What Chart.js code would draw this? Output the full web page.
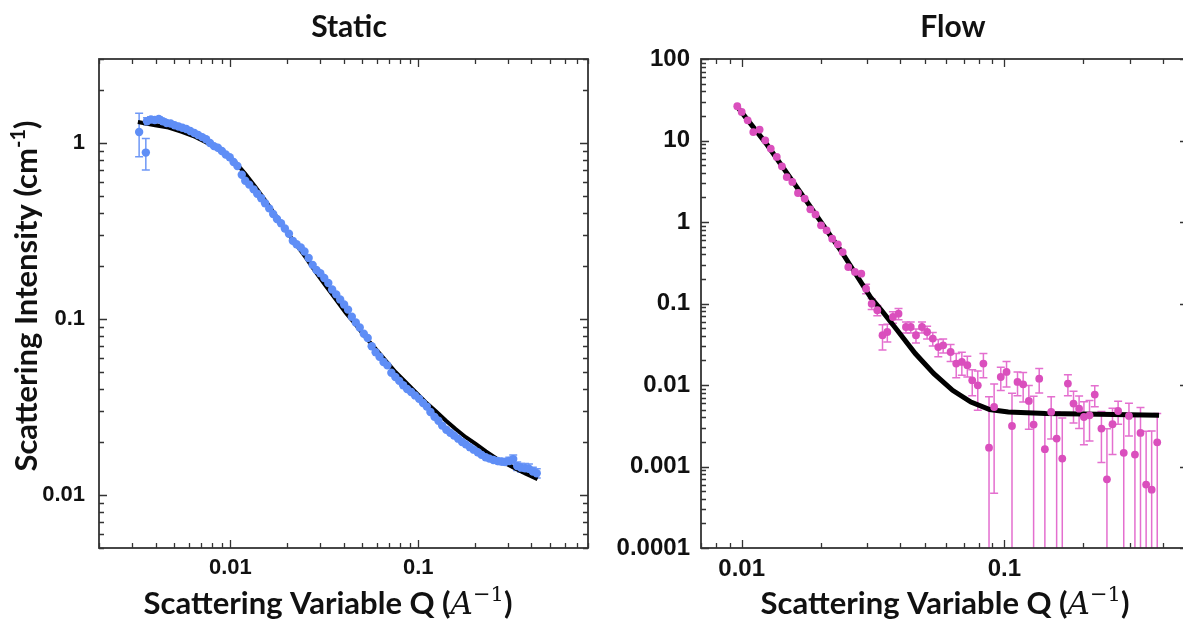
<!DOCTYPE html>
<html>
<head>
<meta charset="utf-8">
<title>Static / Flow scattering</title>
<script src="https://cdn.jsdelivr.net/npm/chart.js@4.4.1/dist/chart.umd.min.js"></script>
<style>
  html, body { margin: 0; padding: 0; background: #fff; overflow: hidden; width: 1183px; height: 619px; }
  .panel { position: absolute; top: 0; width: 600px; height: 619px; }
  #panelStatic { left: 0; }
  #panelFlow { left: 600px; }
  canvas { display: block; }
</style>
</head>
<body>
<div class="panel" id="panelStatic"><canvas id="staticChart" width="600" height="619" style="width:600px;height:619px"></canvas></div>
<div class="panel" id="panelFlow"><canvas id="flowChart" width="600" height="619" style="width:600px;height:619px"></canvas></div>
<script>
// ---- Static sample: measured intensity, uncertainty and model fit ----
const staticQ = [
  0.00327, 0.00355,
  0.00360, 0.00378, 0.00396, 0.00416, 0.00437, 0.00458, 0.00481, 0.00505, 0.00530, 0.00556,
  0.00583, 0.00612, 0.00643, 0.00674, 0.00708, 0.00743, 0.00779, 0.00818, 0.00858, 0.00901,
  0.00945, 0.00992, 0.0104, 0.0109, 0.0115, 0.0120, 0.0126, 0.0133, 0.0139, 0.0146,
  0.0153, 0.0161, 0.0169, 0.0177, 0.0186, 0.0195, 0.0205, 0.0215, 0.0225, 0.0237,
  0.0248, 0.0261, 0.0274, 0.0287, 0.0301, 0.0316, 0.0332, 0.0348, 0.0366, 0.0384,
  0.0403, 0.0423, 0.0443, 0.0465, 0.0488, 0.0513, 0.0538, 0.0565, 0.0593, 0.0622,
  0.0653, 0.0685, 0.0719, 0.0755, 0.0792, 0.0831, 0.0872, 0.0916, 0.0961, 0.101,
  0.106, 0.111, 0.116, 0.122, 0.128, 0.134, 0.141, 0.148, 0.155, 0.163,
  0.171, 0.179, 0.188, 0.197, 0.207, 0.217, 0.228, 0.239, 0.251, 0.264,
  0.277, 0.290, 0.305, 0.320, 0.336, 0.352, 0.370, 0.388, 0.407, 0.427
];
const staticI = [
  1.155, 0.882,
  1.33, 1.36, 1.35, 1.37, 1.33, 1.30, 1.29, 1.26, 1.24, 1.22,
  1.20, 1.17, 1.14, 1.11, 1.08, 1.05, 1.00, 0.96, 0.94, 0.90,
  0.86, 0.83, 0.78, 0.74, 0.66, 0.61, 0.58, 0.545, 0.515, 0.485,
  0.455, 0.425, 0.395, 0.370, 0.350, 0.327, 0.305, 0.278, 0.266, 0.255,
  0.242, 0.222, 0.203, 0.190, 0.182, 0.171, 0.160, 0.147, 0.138, 0.129,
  0.121, 0.113, 0.103, 0.0955, 0.0895, 0.0825, 0.0780, 0.0700, 0.0648, 0.0610,
  0.0570, 0.0545, 0.0495, 0.0468, 0.0445, 0.0420, 0.0400, 0.0385, 0.0368, 0.0352,
  0.0333, 0.0318, 0.0296, 0.0278, 0.0264, 0.0248, 0.0235, 0.0226, 0.0218, 0.0209,
  0.0200, 0.0194, 0.0187, 0.0181, 0.0175, 0.0169, 0.0164, 0.0161, 0.0158, 0.0156,
  0.0155, 0.0154, 0.0156, 0.0160, 0.0146, 0.0143, 0.0142, 0.0141, 0.0136, 0.0133
];
const staticErr = [
  0.32, 0.18,
  0.06, 0.05, 0.05, 0.04, 0.04, 0.03, 0.03, 0.02, 0, 0,
  0, 0, 0, 0, 0, 0, 0, 0, 0, 0,
  0, 0, 0, 0, 0, 0, 0, 0, 0, 0,
  0, 0, 0, 0, 0, 0, 0, 0, 0, 0,
  0, 0, 0, 0, 0, 0, 0, 0, 0, 0,
  0, 0, 0, 0, 0, 0, 0, 0, 0, 0,
  0, 0, 0, 0, 0, 0, 0, 0, 0, 0,
  0, 0, 0, 0, 0, 0, 0, 0, 0, 0,
  0, 0, 0, 0, 0, 0, 0, 0, 0, 0,
  0.0006, 0.0006, 0.0008, 0.0009, 0.0008, 0.0008, 0.0009, 0.0009, 0.0008, 0.0008
];
const staticFitQ = [
  0.00322, 0.00398, 0.00469, 0.00552, 0.00651, 0.00736, 0.00832, 0.0094, 0.0106, 0.012,
  0.0136, 0.0154, 0.0174, 0.0196, 0.0222, 0.0251, 0.0284, 0.0321, 0.0363, 0.041,
  0.0464, 0.0524, 0.0593, 0.067, 0.0758, 0.0857, 0.0968, 0.1095, 0.124, 0.14,
  0.158, 0.179, 0.202, 0.229, 0.259, 0.292, 0.33, 0.373, 0.431
];
const staticFitI = [
  1.316, 1.261, 1.223, 1.155, 1.082, 1.013, 0.942, 0.862, 0.780, 0.668,
  0.562, 0.468, 0.388, 0.322, 0.268, 0.225, 0.185, 0.155, 0.130, 0.109,
  0.0931, 0.0788, 0.0677, 0.058, 0.0498, 0.0437, 0.0384, 0.0337, 0.0299, 0.0265,
  0.0237, 0.0213, 0.0195, 0.0177, 0.0162, 0.0151, 0.0141, 0.0132, 0.0123
];

// ---- Flow sample: measured intensity, uncertainty and model fit ----
const flowQ = [
  0.00962, 0.0100, 0.01054, 0.01107, 0.0117, 0.01229, 0.0129, 0.0136, 0.01423, 0.01484,
  0.01559, 0.01638, 0.01737, 0.01825, 0.0191, 0.02004, 0.02105, 0.02211, 0.02323, 0.02423,
  0.02545, 0.02699, 0.02853, 0.02976, 0.03125, 0.03283, 0.03436, 0.03584, 0.03765, 0.03954,
  0.0422, 0.04401, 0.04607, 0.04856, 0.0508, 0.05338, 0.05603, 0.05848, 0.06241, 0.06556,
  0.06887, 0.07228, 0.07544, 0.0792, 0.0832, 0.0874, 0.0914, 0.0969, 0.1019, 0.1069,
  0.1122, 0.1179, 0.1239, 0.1292, 0.1357, 0.1426, 0.1507, 0.1581, 0.1661, 0.1745,
  0.1833, 0.1925, 0.2008, 0.2109, 0.2208, 0.2341, 0.2457, 0.258, 0.271, 0.2847,
  0.298, 0.314, 0.3297, 0.3464, 0.3636, 0.3818
];
const flowI = [
  26.3, 22.4, 17.7, 12.7, 13.6, 10.05, 7.95, 6.28, 4.82, 3.56,
  3.10, 2.27, 1.94, 1.43, 1.24, 0.911, 0.791, 0.625, 0.532, 0.428,
  0.280, 0.244, 0.232, 0.152, 0.0996, 0.0826, 0.0408, 0.0447, 0.0683, 0.0751,
  0.0515, 0.0515, 0.0408, 0.0515, 0.0447, 0.0371, 0.0292, 0.0307, 0.0254, 0.0183,
  0.0192, 0.0175, 0.0114, 0.0099, 0.0183, 0.0017, 0.00537, 0.01254, 0.01445, 0.00314,
  0.0109, 0.0102, 0.00637, 0.00327, 0.01197, 0.00163, 0.00467, 0.0022, 0.00125, 0.0104,
  0.00591, 0.00513, 0.00405, 0.00425, 0.00762, 0.00292, 0.000697, 0.0033, 0.0048, 0.00147,
  0.00417, 0.0014, 0.00258, 0.0006, 0.00052, 0.00198
];
const flowErr = [
  0, 0, 0, 0, 0, 0, 0, 0, 0, 0,
  0, 0, 0, 0, 0, 0, 0, 0, 0, 0,
  0, 0, 0, 0.02, 0.015, 0.012, 0.014, 0.011, 0.011, 0.012,
  0.008, 0.008, 0.008, 0.008, 0.008, 0.007, 0.007, 0.006, 0.006, 0.006,
  0.006, 0.005, 0.004, 0.005, 0.006, 0.0055, 0.0049, 0.004, 0.005, 0.0048,
  0.0035, 0.004, 0.0035, 0.004, 0.004, 0.0029, 0.0025, 0.0025, 0.0027, 0.003,
  0.0025, 0.0022, 0.0022, 0.0022, 0.0022, 0.0018, 0.0022, 0.0019, 0.0015, 0.0027,
  0.0018, 0.0027, 0.0027, 0.0021, 0.0022, 0.0025
];
const flowFitQ = [
  0.00962, 0.0124, 0.0172, 0.0238, 0.0309, 0.0341, 0.0389, 0.0458, 0.0539, 0.0635,
  0.0746, 0.0879, 0.1035, 0.1435, 0.199, 0.388
];
const flowFitI = [
  26.0, 9.16, 2.03, 0.450, 0.120, 0.082, 0.048, 0.0243, 0.0138, 0.0086,
  0.00618, 0.00499, 0.00467, 0.00446, 0.0044, 0.00425
];

// ---- Axis ranges and labelled decades ----
const staticXRange = [0.002, 0.8];
const staticYRange = [0.005, 3];
const flowXRange = [0.007, 0.5];
const flowYRange = [0.0001, 100];
const staticXTicks = [0.01, 0.1];
const staticXLabels = ['0.01', '0.1'];
const staticYTicks = [0.01, 0.1, 1];
const staticYLabels = ['0.01', '0.1', '1'];
const flowXTicks = [0.01, 0.1];
const flowXLabels = ['0.01', '0.1'];
const flowYTicks = [0.0001, 0.001, 0.01, 0.1, 1, 10, 100];
const flowYLabels = ['0.0001', '0.001', '0.01', '0.1', '1', '10', '100'];

// 1..9 x 10^n tick positions inside a range; the 1 x 10^n ones are major
function decadeTicks(min, max) {
  const out = [];
  for (let e = Math.floor(Math.log10(min)); e <= Math.ceil(Math.log10(max)); e++) {
    for (let m = 1; m <= 9; m++) {
      const v = +(m * Math.pow(10, e)).toPrecision(6);
      if (v >= min * 0.9999 && v <= max * 1.0001) out.push({ value: v, major: m === 1 });
    }
  }
  return out;
}
function labelFor(values, labels) {
  return function (value) {
    const k = values.findIndex(v => Math.abs(Math.log10(v) - Math.log10(value)) < 1e-6);
    return k >= 0 ? labels[k] : '';
  };
}

// Draws a line of mixed-font text centred at (cx, baseline)
function drawRich(ctx, parts, cx, baseline, rotate) {
  ctx.save();
  let total = 0;
  parts.forEach(p => { ctx.font = p.font; p.w = ctx.measureText(p.t).width; total += p.w; });
  ctx.translate(cx, baseline);
  if (rotate) ctx.rotate(-Math.PI / 2);
  ctx.fillStyle = '#111';
  ctx.textBaseline = 'alphabetic';
  ctx.textAlign = 'left';
  let x = -total / 2;
  parts.forEach(p => { ctx.font = p.font; ctx.fillText(p.t, x, p.dy || 0); x += p.w; });
  ctx.restore();
}

// Frame with inward ticks on all four sides, error bars and panel texts
const panelDecor = {
  id: 'panelDecor',
  beforeDatasetsDraw(chart, args, opts) {
    const e = opts.errors;
    if (!e) return;
    const ctx = chart.ctx, ca = chart.chartArea;
    const xs = chart.scales.x, ys = chart.scales.y;
    ctx.save();
    ctx.beginPath();
    ctx.rect(ca.left, ca.top, ca.right - ca.left, ca.bottom - ca.top);
    ctx.clip();
    ctx.strokeStyle = e.color;
    ctx.lineWidth = e.width;
    for (let k = 0; k < e.q.length; k++) {
      const d = e.err[k];
      if (!d) continue;
      const x = xs.getPixelForValue(e.q[k]);
      const hi = e.i[k] + d, lo = e.i[k] - d;
      const yHi = ys.getPixelForValue(hi);
      const yLo = lo > 0 ? ys.getPixelForValue(lo) : ca.bottom + 10;
      ctx.beginPath();
      ctx.moveTo(x, yHi); ctx.lineTo(x, yLo);
      ctx.moveTo(x - e.cap, yHi); ctx.lineTo(x + e.cap, yHi);
      if (lo > 0) { ctx.moveTo(x - e.cap, yLo); ctx.lineTo(x + e.cap, yLo); }
      ctx.stroke();
    }
    ctx.restore();
  },
  afterDraw(chart, args, opts) {
    const ctx = chart.ctx, ca = chart.chartArea;
    const xs = chart.scales.x, ys = chart.scales.y;
    ctx.save();
    ctx.strokeStyle = '#333';
    ctx.lineWidth = 1.3;
    ctx.beginPath();
    xs.ticks.forEach(t => {
      const x = Math.round(xs.getPixelForValue(t.value)) + 0.5;
      const len = t.major ? 8 : 5;
      ctx.moveTo(x, ca.bottom); ctx.lineTo(x, ca.bottom - len);
      ctx.moveTo(x, ca.top); ctx.lineTo(x, ca.top + len);
    });
    ys.ticks.forEach(t => {
      const y = Math.round(ys.getPixelForValue(t.value)) + 0.5;
      const len = t.major ? 8 : 5;
      ctx.moveTo(ca.left, y); ctx.lineTo(ca.left + len, y);
      ctx.moveTo(ca.right, y); ctx.lineTo(ca.right - len, y);
    });
    ctx.stroke();
    ctx.lineWidth = 1.8;
    ctx.strokeRect(ca.left, ca.top, ca.right - ca.left, ca.bottom - ca.top);
    ctx.restore();

    const t = opts.texts;
    ctx.save();
    ctx.fillStyle = '#111';
    ctx.font = 'bold 30px Lato, "Open Sans", sans-serif';
    ctx.textAlign = 'center';
    ctx.textBaseline = 'alphabetic';
    ctx.fillText(t.title, t.titleX, 37);
    ctx.restore();
    drawRich(ctx, t.xTitle, t.xTitleX, 614, false);
    if (t.yTitle) drawRich(ctx, t.yTitle, 37, 296, true);
  }
};

const xTitleParts = [
  { t: 'Scattering Variable Q (', font: 'bold 31px Lato, "Open Sans", sans-serif' },
  { t: 'A', font: 'italic 31px "DejaVu Serif", "Liberation Serif", serif' },
  { t: '\u22121', font: '21px "DejaVu Serif", "Liberation Serif", serif', dy: -13 },
  { t: ')', font: 'bold 31px Lato, "Open Sans", sans-serif' }
];
const yTitleParts = [
  { t: 'Scattering Intensity (cm', font: 'bold 31px Lato, "Open Sans", sans-serif' },
  { t: '-1', font: 'bold 20px Lato, "Open Sans", sans-serif', dy: -12 },
  { t: ')', font: 'bold 31px Lato, "Open Sans", sans-serif' }
];

function buildPanel(id, p) {
  const tickFont = { family: '"Liberation Sans", Arial, sans-serif', weight: 'bold', size: p.tickSize };
  return new Chart(document.getElementById(id), {
    type: 'scatter',
    data: {
      datasets: [
        {
          data: p.q.map((q, k) => ({ x: q, y: p.i[k] })),
          pointRadius: p.dotRadius,
          pointHoverRadius: p.dotRadius,
          pointBackgroundColor: p.color,
          pointBorderWidth: 0,
          showLine: false
        },
        {
          data: p.fitQ.map((q, k) => ({ x: q, y: p.fitI[k] })),
          showLine: true,
          borderColor: '#000',
          borderWidth: p.fitWidth,
          pointRadius: 0,
          tension: 0,
          fill: false
        }
      ]
    },
    options: {
      responsive: false,
      animation: false,
      devicePixelRatio: 1,
      layout: { padding: { left: 0, top: p.top, right: p.padRight, bottom: 0 } },
      plugins: {
        legend: { display: false },
        tooltip: { enabled: false },
        panelDecor: {
          errors: { q: p.q, i: p.i, err: p.err, color: p.errColor, width: 1.5, cap: 4 },
          texts: p.texts
        }
      },
      scales: {
        x: {
          type: 'logarithmic',
          position: 'bottom',
          min: p.xRange[0],
          max: p.xRange[1],
          grid: { display: false, drawTicks: false },
          border: { display: false },
          afterBuildTicks: s => { s.ticks = decadeTicks(p.xRange[0], p.xRange[1]); },
          afterFit: s => { s.height = p.xAxisH; },
          ticks: {
            autoSkip: false, maxRotation: 0, minRotation: 0, padding: 7,
            font: tickFont, color: '#111',
            callback: labelFor(p.xTicks, p.xLabels)
          }
        },
        y: {
          type: 'logarithmic',
          position: 'left',
          min: p.yRange[0],
          max: p.yRange[1],
          grid: { display: false, drawTicks: false },
          border: { display: false },
          afterBuildTicks: s => { s.ticks = decadeTicks(p.yRange[0], p.yRange[1]); },
          afterFit: s => { s.width = p.yAxisW; },
          ticks: {
            autoSkip: false, padding: p.yPad,
            font: tickFont, color: '#111',
            callback: labelFor(p.yTicks, p.yLabels)
          }
        }
      }
    },
    plugins: [panelDecor]
  });
}

buildPanel('staticChart', {
  q: staticQ, i: staticI, err: staticErr, fitQ: staticFitQ, fitI: staticFitI,
  color: '#5f8ef6', errColor: '#6f98f6', fitWidth: 4, dotRadius: 4.2,
  xRange: staticXRange, yRange: staticYRange,
  xTicks: staticXTicks, xLabels: staticXLabels, yTicks: staticYTicks, yLabels: staticYLabels,
  tickSize: 22, yPad: 14, top: 59, padRight: 12, yAxisW: 99, xAxisH: 71,
  texts: { title: 'Static', titleX: 349, xTitle: xTitleParts, xTitleX: 328, yTitle: yTitleParts }
});

buildPanel('flowChart', {
  q: flowQ, i: flowI, err: flowErr, fitQ: flowFitQ, fitI: flowFitI,
  color: '#da4fbd', errColor: '#e46fcf', fitWidth: 5, dotRadius: 3.9,
  xRange: flowXRange, yRange: flowYRange,
  xTicks: flowXTicks, xLabels: flowXLabels, yTicks: flowYTicks, yLabels: flowYLabels,
  tickSize: 24, yPad: 11, top: 59, padRight: 12, yAxisW: 101, xAxisH: 71,
  texts: { title: 'Flow', titleX: 353, xTitle: xTitleParts, xTitleX: 345, yTitle: null }
});
</script>
</body>
</html>
